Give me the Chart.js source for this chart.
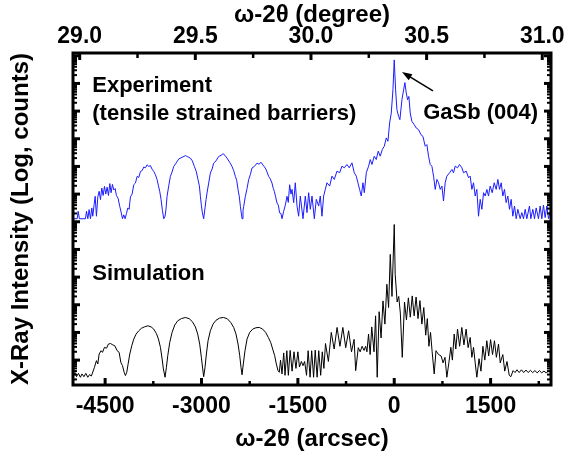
<!DOCTYPE html>
<html>
<head>
<meta charset="utf-8">
<script src="https://cdn.jsdelivr.net/npm/chart.js@4.4.1/dist/chart.umd.min.js"></script>
<style>
  html, body { margin: 0; padding: 0; background: #fff; }
  #wrap { width: 574px; height: 457px; }
</style>
</head>
<body>
<div id="wrap"><canvas id="xrd" width="574" height="457"></canvas></div>
<script>
// Rango del eje inferior (arcsec) y del eje log (décadas)
const xMin = -5000, xMax = 2440;
const braggDeg = 30.36;          // 0 arcsec en el eje superior
const yMin = 0.1, yMax = 12.1;

const arcsecTicks = [-4500, -3000, -1500, 0, 1500];
const arcsecMinor = [-3750, -2250, -750, 750, 2250];
const degreeTicks = [29.0, 29.5, 30.0, 30.5, 31.0];
const degreeMinor = [29.25, 29.75, 30.25, 30.75];

// Experimento (curva azul), log(counts) desplazado
const expArcsec = [
  -5000, -4935, -4920, -4900, -4806, -4790, -4769, -4749, -4728, -4707,
  -4692, -4671, -4655, -4635, -4614, -4593, -4572, -4552, -4531, -4510,
  -4490, -4469, -4448, -4427, -4407, -4386, -4365, -4344, -4324, -4298,
  -4272, -4251, -4230, -4210, -4189, -4168, -4147, -4127, -4106, -4080,
  -4054, -4028, -4002, -3976, -3950, -3924, -3898, -3873, -3847, -3821,
  -3795, -3769, -3743, -3717, -3691, -3670, -3650, -3629, -3608, -3587,
  -3567, -3551, -3536, -3510, -3484, -3458, -3432, -3396, -3354, -3302,
  -3251, -3214, -3173, -3142, -3111, -3079, -3054, -3033, -3017, -3002,
  -2986, -2966, -2945, -2929, -2914, -2888, -2862, -2836, -2810, -2774,
  -2733, -2696, -2665, -2634, -2603, -2561, -2525, -2499, -2473, -2452,
  -2431, -2411, -2395, -2369, -2354, -2343, -2317, -2291, -2266, -2240,
  -2214, -2177, -2136, -2105, -2074, -2043, -2006, -1980, -1955, -1929,
  -1903, -1882, -1866, -1846, -1825, -1804, -1784, -1763, -1747, -1721,
  -1695, -1669, -1649, -1628, -1607, -1591, -1565, -1540, -1513, -1488,
  -1462, -1420, -1384, -1358, -1332, -1306, -1280, -1244, -1213, -1176,
  -1151, -1125, -1099, -1073, -1047, -1005, -969, -933, -891, -850,
  -814, -777, -736, -700, -658, -622, -591, -565, -539, -513,
  -487, -466, -435, -399, -373, -347, -311, -280, -249, -218,
  -186, -155, -124, -98, -72, -46, -20, 0, 21, 42,
  68, 88, 120, 146, 166, 187, 208, 228, 249, 275,
  311, 342, 379, 415, 446, 482, 508, 534, 560, 586,
  612, 638, 664, 690, 716, 742, 767, 793, 819, 861,
  897, 923, 949, 985, 1016, 1053, 1079, 1120, 1157, 1182,
  1208, 1234, 1260, 1286, 1312, 1338, 1364, 1390, 1416, 1442,
  1467, 1493, 1525, 1556, 1587, 1613, 1639, 1665, 1690, 1716,
  1742, 1768, 1794, 1820, 1846, 1872, 1898, 1924, 1960, 1986,
  2012, 2038, 2064, 2105, 2126, 2157, 2183, 2209, 2245, 2271,
  2297, 2323, 2349, 2375, 2401, 2440
];
const expLog = [
  6.11, 6.11, 6.38, 6.11, 6.11, 6.38, 6.11, 6.44, 6.11, 6.5,
  6.2, 6.62, 6.92, 6.2, 6.9, 7.1, 6.8, 7.22, 6.95, 7.28,
  7.0, 7.25, 6.95, 7.38, 7.05, 7.35, 7.15, 7.2, 6.95, 6.85,
  6.55, 6.35, 6.11, 6.25, 6.11, 6.3, 6.5, 6.45, 6.9, 7.0,
  7.34, 7.4, 7.64, 7.6, 7.82, 7.85, 7.98, 7.95, 8.06, 8.0,
  8.03, 7.9, 7.82, 7.7, 7.52, 7.3, 7.1, 6.8, 6.4, 6.11,
  6.2, 6.5, 6.92, 7.3, 7.64, 7.8, 8.0, 8.12, 8.27, 8.33,
  8.39, 8.35, 8.3, 8.2, 8.0, 7.8, 7.52, 7.3, 6.92, 6.6,
  6.32, 6.11, 6.5, 6.8, 7.04, 7.4, 7.76, 7.9, 8.12, 8.2,
  8.36, 8.4, 8.46, 8.4, 8.3, 8.15, 8.0, 7.85, 7.64, 7.5,
  7.16, 6.9, 6.56, 6.11, 6.4, 6.56, 6.92, 7.2, 7.52, 7.7,
  7.94, 8.0, 8.12, 8.08, 8.15, 8.05, 7.94, 7.8, 7.64, 7.55,
  7.4, 7.2, 7.1, 6.9, 6.68, 6.6, 6.32, 6.3, 6.11, 6.38,
  6.6, 6.92, 6.7, 7.34, 7.0, 7.17, 6.69, 7.41, 6.57, 6.2,
  6.93, 6.11, 6.93, 6.33, 7.05, 6.45, 6.93, 6.11, 6.81, 6.57,
  6.93, 6.2, 6.93, 7.17, 7.41, 7.29, 7.65, 7.53, 7.83, 7.77,
  8.01, 7.95, 8.07, 7.95, 8.13, 7.77, 7.65, 7.41, 7.17, 6.93,
  7.41, 7.05, 7.77, 8.01, 8.25, 8.07, 8.37, 8.25, 8.55, 8.37,
  8.61, 8.73, 9.03, 8.91, 9.57, 9.93, 10.77, 11.85, 10.77, 10.05,
  9.81, 9.69, 10.41, 10.77, 11.03, 10.65, 10.41, 10.53, 9.93, 9.63,
  9.51, 9.39, 9.33, 9.15, 9.09, 8.73, 8.79, 8.37, 8.07, 8.01,
  7.65, 7.17, 7.53, 7.41, 7.17, 7.29, 6.75, 7.41, 7.65, 7.77,
  7.89, 7.77, 8.01, 7.95, 8.07, 7.95, 7.77, 7.83, 7.59, 7.65,
  7.17, 7.41, 6.93, 7.17, 6.2, 6.81, 6.45, 7.05, 6.93, 7.17,
  6.93, 7.29, 7.05, 7.41, 7.17, 7.53, 7.17, 7.41, 6.93, 7.17,
  6.69, 6.93, 6.45, 6.81, 6.2, 6.57, 6.11, 6.45, 6.11, 6.33,
  6.11, 6.45, 6.11, 6.57, 6.11, 6.45, 6.11, 6.5, 6.11, 6.57,
  6.11, 6.6, 6.15, 6.57, 6.11, 6.5
];

// Simulación (curva negra)
const simArcsec = [
  -5000, -4970, -4945, -4915, -4885, -4860, -4830, -4800, -4770, -4740,
  -4715, -4702, -4666, -4635, -4614, -4593, -4562, -4541, -4510, -4479,
  -4448, -4417, -4381, -4350, -4313, -4282, -4256, -4230, -4204, -4184,
  -4163, -4142, -4116, -4085, -4054, -4018, -3976, -3935, -3888, -3836,
  -3784, -3743, -3702, -3670, -3639, -3613, -3593, -3567, -3546, -3525,
  -3494, -3458, -3416, -3370, -3313, -3251, -3193, -3142, -3095, -3059,
  -3028, -3002, -2981, -2966, -2945, -2924, -2898, -2862, -2820, -2774,
  -2717, -2655, -2597, -2545, -2499, -2463, -2431, -2405, -2385, -2369,
  -2349, -2323, -2291, -2250, -2203, -2152, -2100, -2048, -2001, -1960,
  -1923, -1892, -1861, -1835, -1809, -1789, -1770, -1747, -1720, -1700,
  -1672, -1648, -1620, -1590, -1560, -1530, -1500, -1475, -1445, -1420,
  -1395, -1365, -1340, -1310, -1285, -1255, -1230, -1200, -1175, -1145,
  -1120, -1095, -1070, -1025, -980, -935, -890, -845, -800, -755,
  -710, -665, -625, -600, -560, -530, -500, -470, -445, -425,
  -400, -375, -350, -315, -290, -265, -235, -205, -175, -145,
  -115, -88, -62, -35, 0, 15, 45, 70, 95, 125,
  160, 190, 220, 250, 280, 310, 340, 370, 400, 430,
  460, 490, 515, 540, 565, 590, 622, 650, 690, 730,
  760, 790, 819, 850, 881, 905, 933, 958, 985, 1018,
  1052, 1085, 1119, 1150, 1182, 1208, 1234, 1260, 1286, 1320,
  1350, 1380, 1410, 1441, 1470, 1500, 1530, 1560, 1590, 1623,
  1650, 1690, 1720, 1755, 1790, 1815, 1850, 1880, 1910, 1945,
  1980, 2015, 2050, 2085, 2120, 2155, 2190, 2225, 2260, 2295,
  2330, 2365, 2400, 2440
];
const simLog = [
  0.45, 0.55, 0.4, 0.52, 0.38, 0.5, 0.4, 0.52, 0.38, 0.48,
  0.42, 0.5, 0.74, 0.98, 0.86, 1.22, 1.34, 1.28, 1.46, 1.43,
  1.58, 1.6, 1.55, 1.52, 1.34, 1.28, 0.92, 0.8, 0.56, 0.44,
  0.56, 0.86, 1.22, 1.52, 1.76, 1.94, 2.06, 2.15, 2.2, 2.24,
  2.2, 2.12, 1.96, 1.76, 1.46, 1.04, 0.68, 0.38, 0.74, 1.16,
  1.64, 2.0, 2.27, 2.42, 2.5, 2.54, 2.5, 2.39, 2.2, 1.94,
  1.58, 1.1, 0.68, 0.4, 0.74, 1.22, 1.7, 2.06, 2.3, 2.44,
  2.52, 2.54, 2.49, 2.36, 2.18, 1.94, 1.58, 1.16, 0.74, 0.47,
  0.86, 1.34, 1.76, 2.0, 2.12, 2.17, 2.18, 2.12, 2.0, 1.82,
  1.64, 1.4, 1.16, 0.86, 0.62, 0.56, 1.0, 0.5, 1.26, 0.45,
  1.34, 0.45, 1.35, 0.6, 1.3, 0.7, 1.3, 0.75, 0.95, 0.8,
  0.95, 0.45, 1.34, 0.38, 1.34, 0.38, 1.36, 0.38, 1.34, 0.45,
  1.3, 0.7, 1.6, 0.95, 2.0, 1.4, 2.18, 1.5, 2.18, 1.45,
  2.06, 1.3, 1.75, 0.62, 1.45, 1.3, 1.5, 1.35, 1.5, 1.3,
  1.94, 1.2, 2.2, 1.3, 2.6, 0.38, 2.75, 1.8, 3.14, 2.3,
  3.74, 2.9, 4.82, 3.3, 5.9, 4.1, 3.1, 3.3, 2.7, 1.1,
  3.1, 2.45, 3.25, 2.55, 3.32, 2.6, 3.28, 2.5, 3.15, 2.3,
  2.9, 1.9, 2.5, 1.5, 2.0, 1.3, 0.5, 1.34, 1.2, 1.15,
  0.9, 1.1, 0.38, 0.9, 1.46, 1.0, 1.94, 1.4, 2.12, 1.5,
  2.18, 1.55, 2.12, 1.45, 1.82, 1.1, 1.46, 0.9, 0.38, 1.05,
  0.6, 1.5, 1.0, 1.7, 1.15, 1.74, 1.2, 1.7, 1.1, 1.58,
  0.9, 1.2, 0.6, 0.95, 0.45, 0.4, 0.62, 0.55, 0.65, 0.55,
  0.65, 0.55, 0.64, 0.55, 0.63, 0.55, 0.62, 0.54, 0.62, 0.54,
  0.6, 0.54, 0.6, 0.55
];

// Textos dentro del gráfico (posición en unidades de datos)
const notes = [
  { text: 'Experiment', x: -4700, y: 10.91 },
  { text: '(tensile strained barriers)', x: -4700, y: 9.89 },
  { text: 'GaSb (004)', x: 450, y: 9.93 },
  { text: 'Simulation', x: -4700, y: 4.11 }
];
const arrowFrom = { x: 603, y: 10.73 };
const arrowTo = { x: 121, y: 11.41 };

const FONT = "'Liberation Sans', Arial, Helvetica, sans-serif";

const toPoints = (xs, ys) => xs.map((x, i) => ({ x: x, y: ys[i] }));

// Marco grueso, ticks hacia adentro, anotaciones y flecha
const marcoPlugin = {
  id: 'marco',
  afterDatasetsDraw(chart) {
    const { ctx, chartArea: a, scales } = chart;
    ctx.save();
    ctx.strokeStyle = '#000';
    ctx.fillStyle = '#000';
    ctx.lineCap = 'butt';

    const line = (x1, y1, x2, y2, w) => {
      ctx.lineWidth = w;
      ctx.beginPath();
      ctx.moveTo(x1, y1);
      ctx.lineTo(x2, y2);
      ctx.stroke();
    };

    // eje inferior
    arcsecTicks.forEach(v => { const p = scales.x.getPixelForValue(v); line(p, a.bottom, p, a.bottom - 7, 3); });
    arcsecMinor.forEach(v => { const p = scales.x.getPixelForValue(v); line(p, a.bottom, p, a.bottom - 4, 2.5); });
    // eje superior
    degreeTicks.forEach(v => { const p = scales.x2.getPixelForValue(v); line(p, a.top, p, a.top + 7, 3); });
    degreeMinor.forEach(v => { const p = scales.x2.getPixelForValue(v); line(p, a.top, p, a.top + 5, 2.5); });
    // ejes verticales (décadas log)
    for (let k = 0; k <= 12; k++) {
      for (let m = 1; m <= 9; m++) {
        const v = k + Math.log10(m);
        if (v <= yMin || v >= yMax) continue;
        const p = scales.y.getPixelForValue(v);
        const len = m === 1 ? 7 : 4;
        const w = m === 1 ? 3 : 2;
        line(a.left, p, a.left + len, p, w);
        line(a.right, p, a.right - len, p, w);
      }
    }

    ctx.lineWidth = 3;
    ctx.strokeRect(a.left, a.top, a.right - a.left, a.bottom - a.top);

    // textos
    ctx.font = 'bold 22px ' + FONT;
    ctx.textAlign = 'left';
    ctx.textBaseline = 'middle';
    notes.forEach(n => {
      ctx.fillText(n.text, scales.x.getPixelForValue(n.x), scales.y.getPixelForValue(n.y));
    });

    // flecha hacia el pico GaSb
    const x1 = scales.x.getPixelForValue(arrowFrom.x), y1 = scales.y.getPixelForValue(arrowFrom.y);
    const x2 = scales.x.getPixelForValue(arrowTo.x), y2 = scales.y.getPixelForValue(arrowTo.y);
    const ang = Math.atan2(y2 - y1, x2 - x1);
    line(x1, y1, x2 - 6 * Math.cos(ang), y2 - 6 * Math.sin(ang), 1.5);
    ctx.beginPath();
    ctx.moveTo(x2, y2);
    ctx.lineTo(x2 - 10 * Math.cos(ang) + 3.5 * Math.sin(ang), y2 - 10 * Math.sin(ang) - 3.5 * Math.cos(ang));
    ctx.lineTo(x2 - 10 * Math.cos(ang) - 3.5 * Math.sin(ang), y2 - 10 * Math.sin(ang) + 3.5 * Math.cos(ang));
    ctx.closePath();
    ctx.fill();
    ctx.restore();
  }
};

const tickFont = { family: FONT, size: 23, weight: 'bold' };
const titleFont = { family: FONT, size: 24, weight: 'bold' };

new Chart(document.getElementById('xrd'), {
  type: 'line',
  data: {
    datasets: [
      {
        label: 'Experiment',
        data: toPoints(expArcsec, expLog),
        borderColor: '#1c1cff',
        borderWidth: 1,
        pointRadius: 0,
        tension: 0,
        xAxisID: 'x',
        yAxisID: 'y'
      },
      {
        label: 'Simulation',
        data: toPoints(simArcsec, simLog),
        borderColor: '#000000',
        borderWidth: 1,
        pointRadius: 0,
        tension: 0,
        xAxisID: 'x',
        yAxisID: 'y'
      }
    ]
  },
  options: {
    responsive: false,
    animation: false,
    devicePixelRatio: 1,
    layout: { padding: 0 },
    plugins: { legend: { display: false }, tooltip: { enabled: false } },
    scales: {
      x: {
        type: 'linear',
        position: 'bottom',
        min: xMin,
        max: xMax,
        afterBuildTicks: ax => { ax.ticks = arcsecTicks.map(v => ({ value: v })); },
        afterFit: ax => { ax.height = 72; },
        grid: { display: false, drawTicks: false },
        border: { display: false },
        ticks: { padding: 8, color: '#000', font: tickFont, maxRotation: 0, autoSkip: false, callback: v => String(v) },
        title: { display: true, text: 'ω-2θ (arcsec)', color: '#000', font: titleFont, padding: { top: 0, bottom: 3 } }
      },
      x2: {
        type: 'linear',
        position: 'top',
        min: braggDeg + xMin / 3600,
        max: braggDeg + xMax / 3600,
        afterBuildTicks: ax => { ax.ticks = degreeTicks.map(v => ({ value: v })); },
        afterFit: ax => { ax.height = 53; },
        grid: { display: false, drawTicks: false },
        border: { display: false },
        ticks: { padding: 3, color: '#000', font: tickFont, maxRotation: 0, autoSkip: false, callback: v => v.toFixed(1) },
        title: { display: true, text: 'ω-2θ (degree)', color: '#000', font: titleFont, padding: { top: 1, bottom: 0 } }
      },
      y: {
        type: 'linear',
        position: 'left',
        min: yMin,
        max: yMax,
        afterFit: ax => { ax.width = 73; },
        grid: { display: false, drawTicks: false },
        border: { display: false },
        ticks: { display: false },
        title: { display: true, text: 'X-Ray Intensity (Log, counts)', color: '#000', font: titleFont, padding: { top: 7, bottom: 0 } }
      },
      y2: {
        type: 'linear',
        position: 'right',
        min: yMin,
        max: yMax,
        afterFit: ax => { ax.width = 23; },
        grid: { display: false, drawTicks: false },
        border: { display: false },
        ticks: { display: false }
      }
    }
  },
  plugins: [marcoPlugin]
});
</script>
</body>
</html>
